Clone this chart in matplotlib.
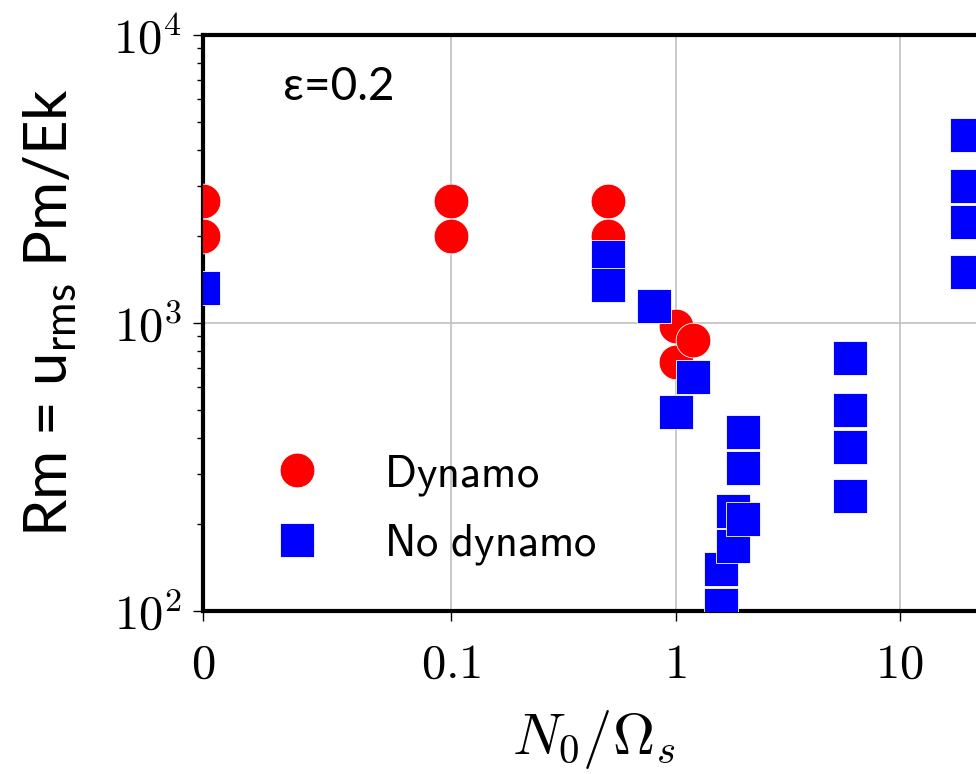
import numpy as np
import matplotlib
matplotlib.use('Agg')
import matplotlib.pyplot as plt
from matplotlib.ticker import NullLocator, LogLocator

plt.rcParams['mathtext.fontset'] = 'cm'
plt.rcParams['mathtext.rm'] = 'Lato'

# N0/Omega_s = 0 is drawn at the left edge of the log axis
X_ZERO = 0.0078

# Dynamo runs
dyn_x = [0, 0, 0.1, 0.1, 0.5, 0.5, 1.0, 1.0, 1.2]
dyn_rm = [2650, 2000, 2650, 2000, 2650, 2000, 980, 735, 875]

# No dynamo runs
nodyn_x = [0, 0.5, 0.5, 0.8, 1.0, 1.2, 1.6, 1.6, 1.8, 1.8, 2.0, 2.0, 2.0,
           6, 6, 6, 6, 20, 20, 20, 20]
nodyn_rm = [1320, 1700, 1350, 1150, 490, 650, 140, 105, 222, 168, 420, 314, 208,
            755, 500, 370, 250, 4500, 3000, 2250, 1500]

xtick_vals = [0, 0.1, 1, 10]
xtick_labels = ['$0$', '$0.1$', '$1$', '$10$']
ytick_vals = [1e2, 1e3, 1e4]
ytick_labels = ['$10^2$', '$10^3$', '$10^4$']


def to_plot(x):
    x = np.asarray(x, dtype=float)
    return np.where(x == 0, X_ZERO, x)


fig = plt.figure(figsize=(9.76, 7.74), dpi=100)
ax = fig.add_axes([203 / 976, 1 - 611 / 774, 782 / 976, 576 / 774])

ms = 25
ax.plot(to_plot(dyn_x), dyn_rm, 'o', color='#ff0000', ms=ms, mec='white', mew=0.6,
        label=r'$\mathsf{Dynamo}$', zorder=3)
ax.plot(to_plot(nodyn_x), nodyn_rm, 's', color='#0000ff', ms=ms, mec='white', mew=0.6,
        label=r'$\mathsf{No\ dynamo}$', zorder=4)

ax.set_xscale('log')
ax.set_yscale('log')
ax.set_xlim(X_ZERO, 24)
ax.set_ylim(1e2, 1e4)

ax.set_xticks(to_plot(xtick_vals))
ax.set_xticklabels(xtick_labels)
ax.xaxis.set_minor_locator(NullLocator())
ax.set_yticks(ytick_vals)
ax.set_yticklabels(ytick_labels)
ax.yaxis.set_minor_locator(LogLocator(base=10, subs=np.arange(2, 10)))
ax.tick_params(axis='both', which='major', labelsize=35, length=7, width=1,
               direction='out', pad=8, colors='black')
ax.tick_params(axis='y', which='minor', length=4, width=1, direction='out')
ax.tick_params(axis='x', pad=14)

ax.grid(True, which='major', color='#c0c0c0', lw=1.2)
ax.set_axisbelow(True)
for sp in ax.spines.values():
    sp.set_linewidth(3)
    sp.set_color('black')

ax.set_xlabel(r'$N_0/\Omega_s$', fontsize=42, labelpad=14)

fig.text(50 / 976, 1 - 312 / 774, r'Rm = u$_\mathrm{rms}$ Pm/Ek', rotation=90,
         ha='center', va='center', fontsize=43, family=['Lato', 'DejaVu Sans'],
         math_fontfamily='custom')

fig.text(283 / 976, 1 - 100 / 774, 'ε=0.2', fontsize=33,
         family=['Lato', 'Open Sans', 'DejaVu Sans'], va='baseline', ha='left')

ax.legend(loc='upper left', bbox_to_anchor=(253 / 976, 1 - 452 / 774),
          bbox_transform=fig.transFigure, frameon=False, fontsize=32,
          handletextpad=0.95, labelspacing=0.55, borderpad=0, borderaxespad=0)

fig.savefig('out.png', dpi=100)
